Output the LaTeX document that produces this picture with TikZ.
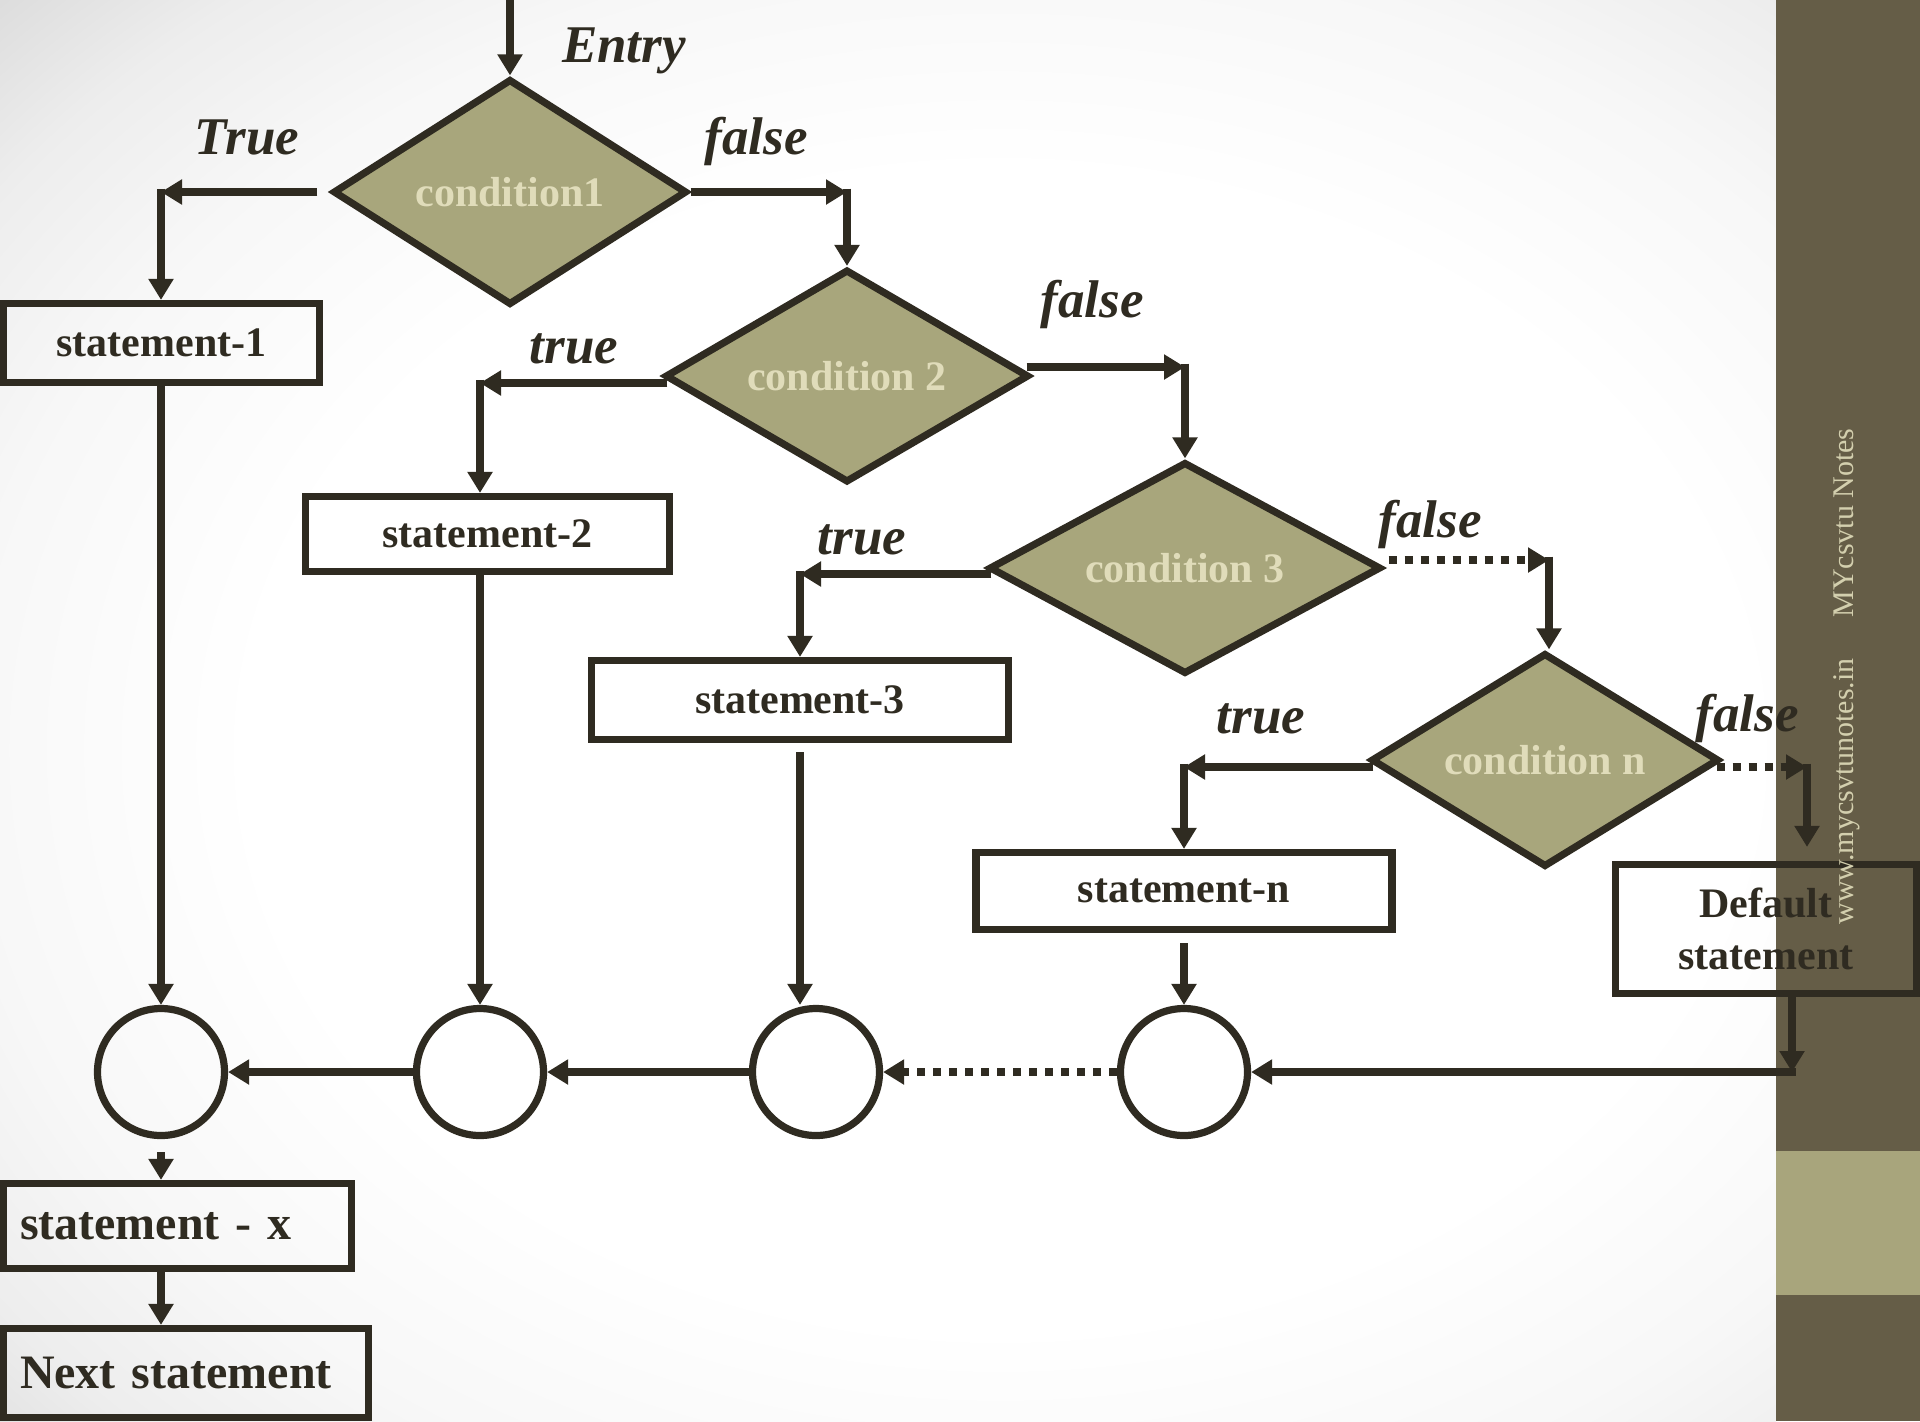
\documentclass[tikz,border=0pt]{standalone}
\usepackage{fontspec}
\setmainfont{Liberation Serif}
\usetikzlibrary{shapes.geometric,arrows.meta,calc}

\definecolor{ink}{HTML}{2F2B21}
\definecolor{khaki}{HTML}{A8A67C}
\definecolor{cream}{HTML}{E0DCBA}
\definecolor{barbrown}{HTML}{655D47}
\definecolor{barband}{HTML}{A8A57C}
\definecolor{marktext}{HTML}{D3CFAE}
\colorlet{bgone}{black!3}
\colorlet{bgtwo}{black!7}
\colorlet{bgthree}{black!14}
\colorlet{bgfour}{black!23}

% soft slide background: white centre fading to grey towards the corners
\pgfdeclareradialshading{slidebg}{\pgfpoint{0bp}{0bp}}{%
  color(0bp)=(white); color(17bp)=(white); color(23.5bp)=(bgone);
  color(28bp)=(bgtwo); color(32bp)=(bgthree); color(36bp)=(bgfour);
  color(50bp)=(bgfour)}

\begin{document}
\begin{tikzpicture}[x=0.5pt,y=-0.5pt,
  wire/.style={draw=ink, line width=3.6pt},
  arr/.style={wire, -{Triangle[length=10.5pt,width=12pt]}},
  dotarr/.style={arr, dash pattern=on 4pt off 4pt},
  decision/.style={diamond, draw=ink, line width=3.6pt, fill=khaki,
    shape aspect=2, inner sep=0pt, text=cream,
    font=\fontsize{21}{26}\selectfont\bfseries},
  stmtbox/.style={rectangle, draw=ink, line width=3.6pt, inner sep=0pt,
    text=ink, font=\fontsize{21}{26}\selectfont\bfseries},
  bigbox/.style={stmtbox, align=left,
    font=\fontsize{24}{28}\selectfont\bfseries},
  joinpt/.style={circle, draw=ink, line width=3.6pt,
    minimum size=63.5pt, inner sep=0pt},
  branchlbl/.style={font=\fontsize{26.5}{30}\selectfont\bfseries\itshape,
    text=ink, inner sep=0pt, anchor=base},
  marklbl/.style={rotate=90, anchor=base west, inner sep=0pt, text=marktext,
    font=\fontsize{15}{18}\selectfont},
]
\useasboundingbox (0,0) rectangle (1920,1421);

% background and side bar
\begin{scope}
  \clip (0,0) rectangle (1776,1421);
  \shade[shading=slidebg] (-100,-100) rectangle (2100,1600);
\end{scope}
\fill[barbrown] (1776,0) rectangle (1920,1421);
\fill[barband] (1776,1151) rectangle (1920,1295);

% decisions
\node[decision, minimum width=177pt, minimum height=113pt] (c1) at (510,192) {condition1};
\node[decision, minimum width=182pt, minimum height=106.5pt] (c2) at (847,376) {condition 2};
\node[decision, minimum width=196pt, minimum height=106pt] (c3) at (1185,568) {condition 3};
\node[decision, minimum width=174pt, minimum height=107pt] (cn) at (1545,760) {condition n};

% statements
\node[stmtbox, minimum width=158pt, minimum height=39.5pt] (s1) at (161.5,343) {statement-1};
\node[stmtbox, minimum width=182pt, minimum height=37.5pt] (s2) at (487.5,534) {statement-2};
\node[stmtbox, minimum width=208.5pt, minimum height=39.5pt] (s3) at (800,700) {statement-3};
\node[stmtbox, minimum width=208pt, minimum height=38.5pt] (sn) at (1184,891) {statement-n};
\node[stmtbox, minimum width=150.5pt, minimum height=64.5pt, align=center] (sd) at (1766,929) {Default\\statement};
\node[bigbox, minimum width=174pt, minimum height=42.5pt, text width=157.5pt] (sx) at (177.5,1226) {statement - x};
\node[bigbox, minimum width=182.5pt, minimum height=44.5pt, text width=166pt] (snext) at (186,1373) {Next statement};

% junction points
\node[joinpt] (j1) at (161,1072) {};
\node[joinpt] (j2) at (480,1072) {};
\node[joinpt] (j3) at (816,1072) {};
\node[joinpt] (j4) at (1184,1072) {};

% branch labels
\node[branchlbl] (lentry) at (624,62) {Entry};
\node[branchlbl] (ltrue1) at (247,154) {True};
\node[branchlbl] (lfalse1) at (756,154) {false};
\node[branchlbl] (ltrue2) at (574,363) {true};
\node[branchlbl] (lfalse2) at (1092,317) {false};
\node[branchlbl] (ltrue3) at (862,554) {true};
\node[branchlbl] (lfalse3) at (1430,537) {false};
\node[branchlbl] (ltruen) at (1261,733) {true};
\node[branchlbl] (lfalsen) at (1747,731) {false};

% elbow corners
\coordinate (entry) at (510,-5);
\coordinate (t1) at (161,192);
\coordinate (f1) at (847,192);
\coordinate (t2) at (480,383);
\coordinate (f2) at (1185,367);
\coordinate (t3) at (800,574);
\coordinate (f3) at (1549,560);
\coordinate (tn) at (1184,767);
\coordinate (fn) at (1807,767);
\coordinate (dc) at (1792,1072);

% entry
\draw[arr] (entry) -- (c1.north);

% condition1
\draw[arr, shorten <=6pt] (c1.west) -- (t1);
\draw[arr] ($(t1)+(0,-3.5)$) -- (t1 |- s1.north);
\draw[arr] (c1.east) -- (f1);
\draw[arr] ($(f1)+(0,-3.5)$) -- (c2.north);

% condition 2
\draw[arr] ($(c2.west)+(6,7)$) -- (t2);
\draw[arr] ($(t2)+(0,-3.5)$) -- (t2 |- s2.north);
\draw[arr] ($(c2.east)+(-6,-9)$) -- (f2);
\draw[arr] ($(f2)+(0,-3.5)$) -- (c3.north);

% condition 3
\draw[arr] ($(c3.west)+(6,6)$) -- (t3);
\draw[arr] ($(t3)+(0,-3.5)$) -- (t3 |- s3.north);
\draw[dotarr] ($(c3.east)+(4,-8)$) -- (f3);
\draw[arr] ($(f3)+(0,-3.5)$) -- (f3 |- cn.north);

% condition n
\draw[arr] ($(cn.west)+(6,7)$) -- (tn);
\draw[arr] ($(tn)+(0,-3.5)$) -- (sn.north);
\draw[dotarr] ($(cn.east)+(-6,7)$) -- (fn);
\draw[arr, shorten >=7pt] ($(fn)+(0,-3.5)$) -- (fn |- sd.north);

% statements down to the junctions
\draw[arr] (j1 |- s1.south) -- (j1.north);
\draw[arr] (j2 |- s2.south) -- (j2.north);
\draw[arr] ($(s3.south)+(0,9)$) -- (s3.south |- j3.north);
\draw[arr] ($(sn.south)+(0,10)$) -- (j4.north);
\draw[arr] (sd.south -| dc) -- (dc);

% junctions collected right to left
\draw[arr] ($(dc)+(3.5,0)$) -- (j4.east);
\draw[dotarr] (j4.west) -- (j3.east);
\draw[arr] (j3.west) -- (j2.east);
\draw[arr] (j2.west) -- (j1.east);

% exit
\draw[arr] ($(j1.south)+(0,13)$) -- (j1 |- sx.north);
\draw[arr] (j1 |- sx.south) -- (j1 |- snext.north);

% side bar captions
\node[marklbl] (site) at (1853,925) {www.mycsvtunotes.in};
\node[marklbl] (brand) at (1853,618) {MYcsvtu Notes};
\end{tikzpicture}
\end{document}
